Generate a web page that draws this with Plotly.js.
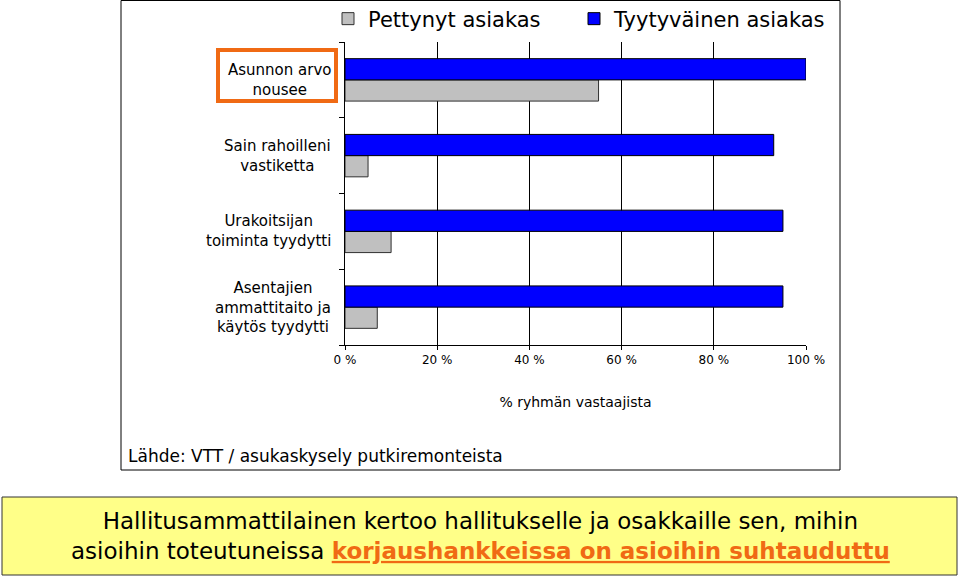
<!DOCTYPE html>
<html>
<head>
<meta charset="utf-8">
<script src="https://cdn.plot.ly/plotly-3.0.1.min.js"></script>
<style>html,body{margin:0;padding:0;background:#fff;}#chart{width:960px;height:578px;}</style>
</head>
<body>
<div id="chart"></div>
<script>
// Data (top-to-bottom order as shown)
const categories = [
  "Asunnon arvo<br>nousee",
  "Sain rahoilleni<br>vastiketta",
  "Urakoitsijan<br>toiminta tyydytti",
  "Asentajien<br>ammattitaito ja<br>käytös tyydytti"
];
const catKeys = ["c1", "c2", "c3", "c4"];
const pettynyt = [55, 5, 10, 7];
const tyytyvainen = [100, 93, 95, 95];
const seriesNames = ["Pettynyt asiakas", "Tyytyväinen asiakas"];
const xTickVals = [0, 20, 40, 60, 80, 100];
const xTickText = ["0 %", "20 %", "40 %", "60 %", "80 %", "100 %"];
const xTitle = "% ryhmän vastaajista";
const sourceText = "Lähde: VTT / asukaskysely putkiremonteista";
const noteLine1 = "Hallitusammattilainen kertoo hallitukselle ja osakkaille sen, mihin";
const noteLine2a = "asioihin toteutuneissa ";
const noteLine2b = "korjaushankkeissa on asioihin suhtauduttu";

const FONT = "'DejaVu Sans', Arial, sans-serif";
const L = 345, R = 806, T = 42, B = 345;
const W = R - L, H = B - T;
const px = x => (x - L) / W;
const py = y => (B - y) / H;

const traces = [
  {
    type: "bar", orientation: "h", name: seriesNames[0], legend: "legend",
    y: catKeys, x: pettynyt,
    marker: {color: "#C0C0C0", line: {color: "#303030", width: 1}},
    hoverinfo: "x"
  },
  {
    type: "bar", orientation: "h", name: seriesNames[1], legend: "legend2",
    y: catKeys, x: tyytyvainen,
    marker: {color: "#0000FF", line: {color: "#000000", width: 1}},
    hoverinfo: "x"
  }
];

const annotations = categories.map((c, i) => ({
  text: c, xref: "paper", yref: "y", x: px(333), y: catKeys[i],
  xanchor: "right", yanchor: "middle", align: "center", showarrow: false,
  font: {family: FONT, size: 15, color: "#000"}
}));
annotations.push({
  text: sourceText, xref: "paper", yref: "paper", x: px(126), y: py(456),
  xanchor: "left", yanchor: "middle", showarrow: false,
  font: {family: FONT, size: 17, color: "#000"}
});
annotations.push({
  text: noteLine1 + "<br>" + noteLine2a +
    "<span style='color:#F06A14;font-weight:bold;text-decoration:underline'>" + noteLine2b + "</span>",
  xref: "paper", yref: "paper", x: px(480), y: py(536),
  xanchor: "center", yanchor: "middle", align: "center", showarrow: false,
  font: {family: FONT, size: 23, color: "#000"}
});

const shapes = [
  {type: "rect", xref: "paper", yref: "paper", x0: px(121), x1: px(840), y0: py(470), y1: py(0.5),
   line: {color: "#000", width: 1}, fillcolor: "rgba(0,0,0,0)", layer: "below"},
  {type: "rect", xref: "paper", yref: "paper", x0: px(2), x1: px(957), y0: py(575), y1: py(497),
   line: {color: "#333", width: 1}, fillcolor: "#FFFF88", layer: "below"},
  {type: "rect", xref: "paper", yref: "paper", x0: px(218), x1: px(336), y0: py(101), y1: py(50),
   line: {color: "#F06A14", width: 4}, fillcolor: "rgba(0,0,0,0)"}
];

const legendBase = {
  orientation: "h", xanchor: "left", yanchor: "middle", y: py(19),
  font: {family: FONT, size: 21, color: "#000"}, bgcolor: "rgba(0,0,0,0)", itemwidth: 30
};

const layout = {
  width: 960, height: 578,
  margin: {l: L, r: 960 - R, t: T, b: 578 - B, pad: 0, autoexpand: false},
  paper_bgcolor: "#fff", plot_bgcolor: "#fff",
  barmode: "group", bargap: 0.44, bargroupgap: 0,
  font: {family: FONT, color: "#000"},
  showlegend: true,
  legend: Object.assign({}, legendBase, {x: px(328)}),
  legend2: Object.assign({}, legendBase, {x: px(574)}),
  xaxis: {
    range: [0, 100], tickvals: xTickVals, ticktext: xTickText,
    showgrid: true, gridcolor: "#000", gridwidth: 1,
    showline: true, linecolor: "#000", linewidth: 1,
    ticks: "outside", ticklen: 4, tickcolor: "#000",
    tickfont: {family: FONT, size: 12, color: "#000"},
    title: {text: xTitle, font: {family: FONT, size: 14, color: "#000"}, standoff: 30},
    zeroline: false, fixedrange: true, automargin: false
  },
  yaxis: {
    type: "category", categoryorder: "array", categoryarray: catKeys.slice().reverse(),
    showticklabels: false, ticks: "outside", ticklen: 5, tickcolor: "#000",
    tickson: "boundaries", showgrid: false,
    showline: true, linecolor: "#000", linewidth: 1, zeroline: false, fixedrange: true, automargin: false
  },
  annotations: annotations,
  shapes: shapes
};

Plotly.newPlot("chart", traces, layout, {displayModeBar: false, staticPlot: true});
</script>
</body>
</html>
